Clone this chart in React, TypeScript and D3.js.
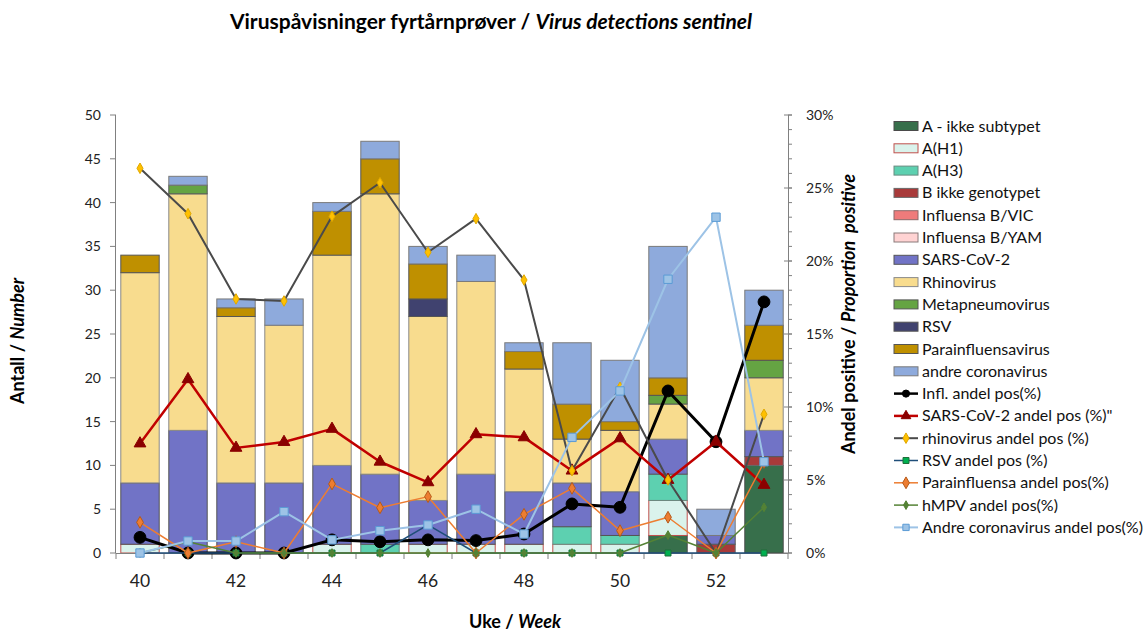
import React from "react";
import * as d3 from "d3";

const weeks = [40, 41, 42, 43, 44, 45, 46, 47, 48, 49, 50, 51, 52, 53];
const weekTickLabels = ["40", "42", "44", "46", "48", "50", "52"];

// stacked counts
const aIkke = [0, 0, 0, 0, 0, 0, 0, 0, 0, 0, 0, 2, 0, 10];
const aH1 = [1, 0, 0, 0, 1, 0, 1, 1, 1, 1, 1, 4, 0, 0];
const aH3 = [0, 0, 0, 0, 0, 1, 0, 0, 0, 2, 1, 3, 0, 0];
const bIkke = [0, 0, 0, 0, 0, 0, 0, 0, 0, 0, 0, 0, 1, 1];
const bVic = [0, 0, 0, 0, 0, 0, 0, 0, 0, 0, 0, 0, 0, 0];
const bYam = [0, 0, 0, 0, 0, 0, 0, 0, 0, 0, 0, 0, 0, 0];
const sarsCov2 = [7, 14, 8, 8, 9, 8, 5, 8, 6, 5, 5, 4, 1, 3];
const rhinovirus = [24, 27, 19, 18, 24, 32, 21, 22, 14, 5, 7, 4, 0, 6];
const metapneumo = [0, 1, 0, 0, 0, 0, 0, 0, 0, 0, 0, 1, 0, 2];
const rsv = [0, 0, 0, 0, 0, 0, 2, 0, 0, 0, 0, 0, 0, 0];
const parainfluensa = [2, 0, 1, 0, 5, 4, 4, 0, 2, 4, 1, 2, 0, 4];
const andreCorona = [0, 1, 1, 3, 1, 2, 2, 3, 1, 7, 7, 15, 3, 4];

// percentages (right axis)
const inflPct = [1.07, 0, 0, 0, 0.9, 0.77, 0.9, 0.85, 1.3, 3.36, 3.13, 11.1, 7.62, 17.2];
const sarsPct = [7.5, 11.9, 7.2, 7.6, 8.5, 6.25, 4.84, 8.13, 7.92, 5.64, 7.85, 5.0, 7.62, 4.66];
const rhinoPct = [26.35, 23.24, 17.4, 17.26, 23.06, 25.36, 20.6, 22.9, 18.7, 5.64, 11.35, 5.0, 0, 9.5];
const rsvPct = [0, 0, 0, 0, 0, 0, 1.92, 0, 0, 0, 0, 0, 0, 0];
const paraPct = [2.1, 0, 0.77, 0, 4.73, 3.1, 3.86, 0, 2.65, 4.43, 1.53, 2.45, 0, 6.2];
const hmpvPct = [0, 0.77, 0, 0, 0, 0, 0, 0, 0, 0, 0, 1.23, 0, 3.13];
const andreCoronaPct = [0, 0.82, 0.82, 2.83, 0.9, 1.53, 1.92, 3.0, 1.3, 7.92, 11.1, 18.75, 23.0, 6.25];

const leftTicks = [0, 5, 10, 15, 20, 25, 30, 35, 40, 45, 50];
const rightTicks = [0, 5, 10, 15, 20, 25, 30];

const barSeries = [
  { name: "A - ikke subtypet", values: aIkke, fill: "#376f4b", stroke: "#4a4a4a" },
  { name: "A(H1)", values: aH1, fill: "#daf3ec", stroke: "#c0504d" },
  { name: "A(H3)", values: aH3, fill: "#5dd0b0", stroke: "#6a8a80" },
  { name: "B ikke genotypet", values: bIkke, fill: "#a83a3a", stroke: "#6a6a6a" },
  { name: "Influensa B/VIC", values: bVic, fill: "#ef7b7b", stroke: "#8a6a6a" },
  { name: "Influensa B/YAM", values: bYam, fill: "#ffd3d3", stroke: "#8a7a7a" },
  { name: "SARS-CoV-2", values: sarsCov2, fill: "#7173c6", stroke: "#555" },
  { name: "Rhinovirus", values: rhinovirus, fill: "#f8dc8e", stroke: "#8a8a8a" },
  { name: "Metapneumovirus", values: metapneumo, fill: "#65a443", stroke: "#555" },
  { name: "RSV", values: rsv, fill: "#40426f", stroke: "#555" },
  { name: "Parainfluensavirus", values: parainfluensa, fill: "#bf9000", stroke: "#555" },
  { name: "andre coronavirus", values: andreCorona, fill: "#8eaadc", stroke: "#7a7a7a" },
];

const lineSeries = [
  { name: "Infl. andel pos(%)", values: inflPct, color: "#000000", width: 3, symbol: d3.symbolCircle, size: 110, mFill: "#000", mStroke: "#000" },
  { name: "SARS-CoV-2 andel pos (%)\"", values: sarsPct, color: "#c00000", width: 2.5, symbol: d3.symbolTriangle, size: 60, mFill: "#8b0000", mStroke: "#8b0000" },
  { name: "rhinovirus andel pos (%)", values: rhinoPct, color: "#4a4a4a", width: 2, symbol: d3.symbolDiamond, size: 32, mFill: "#ffc000", mStroke: "#e0a800" },
  { name: "RSV andel pos (%)", values: rsvPct, color: "#1f4e79", width: 1.5, symbol: d3.symbolSquare, size: 36, mFill: "#00b050", mStroke: "#1f6e3a" },
  { name: "Parainfluensa andel pos(%)", values: paraPct, color: "#ed7d31", width: 1.5, symbol: d3.symbolDiamond, size: 40, mFill: "#ed7d31", mStroke: "#b55a1a" },
  { name: "hMPV andel pos(%)", values: hmpvPct, color: "#548235", width: 1.5, symbol: d3.symbolDiamond, size: 22, mFill: "#548235", mStroke: "#548235" },
  { name: "Andre coronavirus andel pos(%)", values: andreCoronaPct, color: "#9dc3e6", width: 2, symbol: d3.symbolSquare, size: 70, mFill: "#9dc3e6", mStroke: "#5b9bd5" },
];

const FONT = "Lato, 'Open Sans', sans-serif";

export default function App() {
  const W = 1148, H = 631;
  const left = 116, right = 788, top = 115, bottom = 553;

  const x = d3.scaleBand<number>().domain(weeks).range([left, right]).paddingInner(0.2).paddingOuter(0.1);
  const yL = d3.scaleLinear().domain([0, 50]).range([bottom, top]);
  const yR = d3.scaleLinear().domain([0, 30]).range([bottom, top]);
  const step = x.step();

  const stacked = d3.stack<number>()
    .keys(barSeries.map((_, i) => String(i)))
    .value((i, k) => barSeries[+k].values[i])(weeks.map((_, i) => i));

  const cx = (i: number) => (x(weeks[i]) as number) + x.bandwidth() / 2;

  const minorRight = d3.range(0, 31, 1);

  return (
    <svg width={W} height={H} style={{ position: "absolute", left: 0, top: 0, background: "#fff" }} fontFamily={FONT}>
      {/* title */}
      <text x={491} y={29} textAnchor="middle" fontSize={21} fontWeight="bold" fill="#000">
        Viruspåvisninger fyrtårnprøver / <tspan fontStyle="italic">Virus detections sentinel</tspan>
      </text>

      {/* bars */}
      {stacked.map((layer, si) => (
        <g key={si}>
          {layer.map((d, i) => {
            if (d[1] - d[0] <= 0) return null;
            return (
              <rect key={i} x={x(weeks[i])} y={yL(d[1])} width={x.bandwidth()} height={yL(d[0]) - yL(d[1])}
                fill={barSeries[si].fill} stroke={barSeries[si].stroke} strokeWidth={1} />
            );
          })}
        </g>
      ))}

      {/* left axis */}
      <line x1={left - 0.5} x2={left - 0.5} y1={top} y2={bottom} stroke="#808080" />
      {leftTicks.map((t) => (
        <g key={t}>
          <line x1={left - 6} x2={left} y1={yL(t)} y2={yL(t)} stroke="#808080" />
          <text x={101} y={yL(t) + 5} textAnchor="end" fontSize={14} fill="#222">{t}</text>
        </g>
      ))}

      {/* right axis */}
      <line x1={right + 0.5} x2={right + 0.5} y1={top} y2={bottom} stroke="#808080" />
      {minorRight.map((t) => (
        <line key={"m" + t} x1={right} x2={right + 4} y1={yR(t)} y2={yR(t)} stroke="#808080" />
      ))}
      {rightTicks.map((t) => (
        <g key={t}>
          <line x1={right - 4} x2={right + 4} y1={yR(t)} y2={yR(t)} stroke="#808080" />
          <text x={806} y={yR(t) + 5} textAnchor="start" fontSize={14} fill="#222">{t}%</text>
        </g>
      ))}

      {/* bottom axis */}
      <line x1={left} x2={right} y1={bottom + 0.5} y2={bottom + 0.5} stroke="#808080" />
      {d3.range(0, weeks.length + 1).map((k) => (
        <line key={k} x1={left + k * step} x2={left + k * step} y1={bottom} y2={bottom + 6} stroke="#808080" />
      ))}
      {weeks.map((w, i) =>
        weekTickLabels.includes(String(w)) ? (
          <text key={w} x={cx(i)} y={587} textAnchor="middle" fontSize={17.5} fill="#222">{w}</text>
        ) : null
      )}

      {/* lines */}
      {lineSeries.map((s, si) => {
        const path = d3.line<number>().x((_, i) => cx(i)).y((v) => yR(v))(s.values) || "";
        const sym = d3.symbol().type(s.symbol).size(s.size)() || "";
        return (
          <g key={si}>
            <path d={path} fill="none" stroke={s.color} strokeWidth={s.width} strokeLinejoin="round" />
            {s.values.map((v, i) => (
              <path key={i} d={sym} transform={`translate(${cx(i)},${yR(v)})`} fill={s.mFill} stroke={s.mStroke} strokeWidth={1} />
            ))}
          </g>
        );
      })}

      {/* axis titles */}
      <text transform="translate(24,341) rotate(-90)" textAnchor="middle" fontSize={18} fontWeight="bold" fill="#000">
        Antall / <tspan fontStyle="italic">Number</tspan>
      </text>
      <text transform="translate(855,314) rotate(-90)" textAnchor="middle" fontSize={18} fontWeight="bold" fill="#000" style={{ whiteSpace: "pre" }}>
        Andel positive / <tspan fontStyle="italic">{"Proportion\u00a0\u00a0positive"}</tspan>
      </text>
      <text x={515} y={628} textAnchor="middle" fontSize={18} fontWeight="bold" fill="#000">
        Uke / <tspan fontStyle="italic">Week</tspan>
      </text>

      {/* legend */}
      {barSeries.map((s, i) => {
        const ly = 126 + i * 22.3;
        return (
          <g key={"lb" + i}>
            <rect x={894} y={ly - 4.5} width={24} height={9} fill={s.fill} stroke={s.stroke} />
            <text x={922} y={ly + 5.5} fontSize={16} fill="#111">{s.name}</text>
          </g>
        );
      })}
      {lineSeries.map((s, j) => {
        const ly = 126 + (barSeries.length + j) * 22.3;
        const sym = d3.symbol().type(s.symbol).size(Math.min(s.size, 40))() || "";
        return (
          <g key={"ll" + j}>
            <line x1={894} x2={918} y1={ly} y2={ly} stroke={s.color} strokeWidth={Math.min(s.width, 2.5)} />
            <path d={sym} transform={`translate(906,${ly})`} fill={s.mFill} stroke={s.mStroke} />
            <text x={922} y={ly + 5.5} fontSize={16} fill="#111">{s.name}</text>
          </g>
        );
      })}
    </svg>
  );
}
